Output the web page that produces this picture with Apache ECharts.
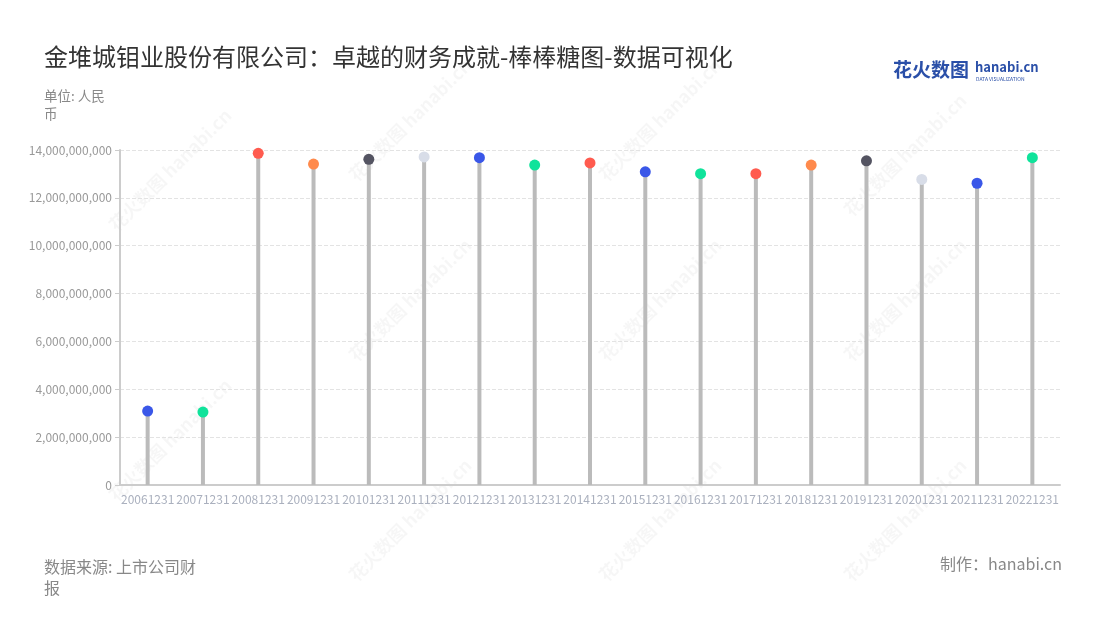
<!DOCTYPE html>
<html>
<head>
<meta charset="utf-8">
<script src="https://cdn.jsdelivr.net/npm/echarts@6/dist/echarts.min.js"></script>
<style>
html,body{margin:0;padding:0;background:#fff;}
#c{width:1100px;height:620px;}
</style>
</head>
<body>
<div id="c"></div>
<script>
const categories = ['20061231','20071231','20081231','20091231','20101231','20111231','20121231','20131231','20141231','20151231','20161231','20171231','20181231','20191231','20201231','20211231','20221231'];
const values = [3090000000,3050000000,13860000000,13410000000,13610000000,13710000000,13680000000,13370000000,13460000000,13090000000,13010000000,13010000000,13370000000,13550000000,12770000000,12610000000,13680000000];
const dotColors = ['#3a57e8','#10e39b','#ff5b4f','#ff8a4c','#545462','#d8dde8','#3a57e8','#10e39b','#ff5b4f','#3a57e8','#10e39b','#ff5b4f','#ff8a4c','#545462','#d8dde8','#3a57e8','#10e39b'];
const titleText = '金堆城钼业股份有限公司：卓越的财务成就-棒棒糖图-数据可视化';

const font = '"Noto Sans CJK SC","Noto Sans",sans-serif';
const chart = echarts.init(document.getElementById('c'));

const wmPos = [[170,170],[410,120],[660,120],[905,155],[170,440],[410,300],[660,300],[905,300],[410,520],[660,520],[905,520]];
const watermarks = wmPos.map(p => ({
  type: 'text', x: p[0], y: p[1], rotation: Math.PI/4, z: 0,
  style: { text: '花火数图 hanabi.cn', fill: 'rgba(0,0,0,0.035)', font: 'bold 18px ' + font, align: 'center', verticalAlign: 'middle' }
}));

chart.setOption({
  animation: false,
  textStyle: { fontFamily: font },
  title: [{
    text: titleText, left: 39, top: 40,
    textStyle: { fontSize: 24, fontWeight: 'normal', color: '#333', fontFamily: font }
  }],
  graphic: [
    ...watermarks,
    { type: 'text', left: 44, top: 87, style: { text: '单位: 人民\n币', fill: '#888', font: '13.5px ' + font, lineHeight: 18 } },
    { type: 'text', left: 44, top: 556, style: { text: '数据来源: 上市公司财\n报', fill: '#888', font: '16px ' + font, lineHeight: 21 } },
    { type: 'text', right: 38, top: 556, style: { text: '制作：hanabi.cn', fill: '#888', font: '16px ' + font } },
    { type: 'text', left: 893, top: 60, style: { text: '花火数图', fill: '#2a4fa8', font: 'bold 19px ' + font } },
    { type: 'text', left: 975, top: 61, style: { text: 'hanabi.cn', fill: '#2a4fa8', font: 'bold 13px ' + font } },
    { type: 'text', left: 976, top: 77, style: { text: 'DATA VISUALIZATION', fill: '#2a4fa8', font: '5px ' + font } }
  ],
  grid: { left: 120, right: 40, top: 150, bottom: 135 },
  xAxis: {
    type: 'category', data: categories,
    axisLine: { lineStyle: { color: '#ccc', width: 2 } },
    axisTick: { alignWithLabel: true, lineStyle: { color: '#ccc' } },
    axisLabel: { color: '#aab0be', fontSize: 12, interval: 0, margin: 8 }
  },
  yAxis: {
    type: 'value', min: 0, max: 14000000000, interval: 2000000000,
    axisLine: { show: true, lineStyle: { color: '#ccc', width: 2 } },
    axisTick: { show: true, length: 5, lineStyle: { color: '#ccc' } },
    axisLabel: { color: '#999', fontSize: 12, formatter: v => v.toLocaleString('en-US') },
    splitLine: { lineStyle: { type: 'dashed', color: '#e3e3e3' } }
  },
  series: [
    {
      type: 'bar', data: values, barWidth: 4, z: 2,
      itemStyle: { color: '#bbbbbb' }
    },
    {
      type: 'scatter', symbolSize: 11, z: 3,
      data: values.map((v, i) => ({ value: v, itemStyle: { color: dotColors[i], opacity: 1 } }))
    }
  ]
});
</script>
</body>
</html>
